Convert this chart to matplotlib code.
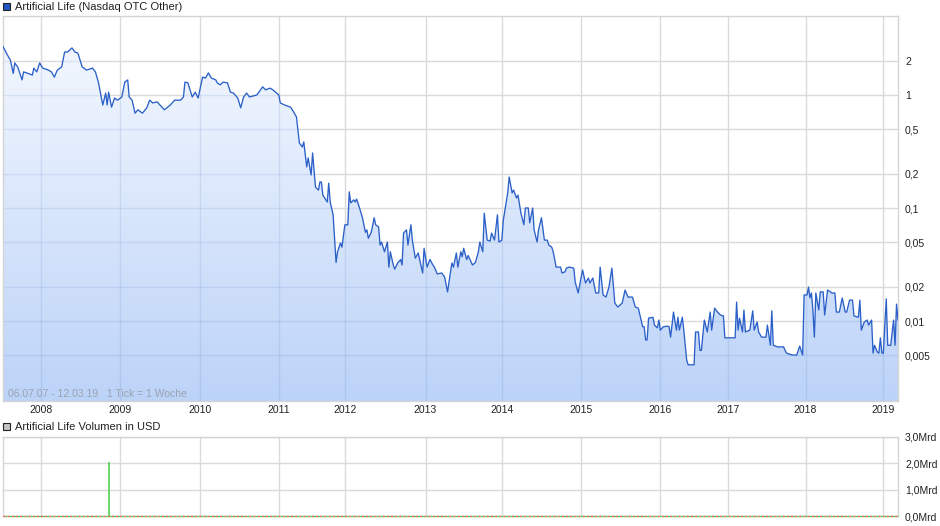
import numpy as np
import matplotlib
matplotlib.use("Agg")
import matplotlib.pyplot as plt
from matplotlib.patches import Polygon, Rectangle
from matplotlib.ticker import FixedLocator, NullLocator
from matplotlib.colors import to_rgb

plt.rcParams['font.family'] = ['Liberation Sans', 'DejaVu Sans']

# weekly closing prices (weeks counted from 06.07.07)
weeks = [0, 3, 5, 7, 8, 10, 13, 14, 16, 20, 21, 23, 25, 27, 31, 33, 35, 37, 40, 42,
         44, 47, 49, 51, 54, 57, 61, 63, 65, 68, 70, 71, 72, 74, 76, 78, 81, 83, 85, 86,
         88, 90, 92, 95, 98, 100, 102, 105, 107, 110, 114, 117, 121, 123, 124, 126, 129, 131, 133, 136,
         138, 140, 142, 145, 146, 148, 150, 153, 155, 157, 160, 162, 164, 166, 168, 173, 177, 179, 182, 184,
         188, 189, 192, 196, 198, 200, 202, 204, 205, 207, 208, 210, 211, 213, 215, 216, 217, 218, 221, 222,
         223, 225, 227, 228, 230, 231, 233, 235, 236, 237, 239, 240, 241, 243, 245, 247, 248, 249, 251, 253,
         254, 256, 257, 258, 260, 262, 263, 264, 266, 267, 269, 271, 272, 273, 275, 276, 278, 279, 281, 283,
         286, 287, 289, 291, 293, 294, 296, 299, 301, 303, 305, 306, 307, 309, 310, 312, 313, 314, 316, 317,
         320, 322, 324, 325, 327, 328, 330, 332, 333, 335, 337, 338, 340, 341, 344, 345, 347, 348, 350, 351,
         353, 355, 356, 358, 359, 361, 362, 364, 365, 367, 369, 371, 372, 374, 375, 377, 380, 381, 383, 384,
         386, 389, 390, 392, 395, 397, 399, 400, 402, 404, 406, 407, 409, 411, 413, 415, 417, 419, 422, 424,
         426, 429, 431, 433, 436, 437, 438, 439, 440, 443, 444, 446, 447, 448, 450, 453, 454, 455, 457, 459,
         460, 461, 463, 464, 466, 467, 470, 471, 472, 474, 475, 476, 478, 480, 482, 483, 485, 487, 489, 491,
         492, 499, 500, 501, 502, 504, 505, 506, 509, 511, 512, 514, 515, 517, 520, 521, 523, 524, 525, 528,
         532, 534, 538, 541, 543, 545, 546, 548, 549, 550, 551, 552, 553, 554, 556, 557, 559, 560, 562, 565,
         567, 568, 570, 572, 574, 575, 577, 579, 580, 583, 584, 585, 587, 589, 590, 592, 593, 594, 596, 597,
         598, 599, 600, 602, 603, 605, 607, 608, 609, 610]
price = [2.68, 2.26, 2.04, 1.55, 1.92, 1.77, 1.36, 1.60, 1.57, 1.50, 1.73, 1.60, 1.92, 1.73, 1.66, 1.60, 1.44, 1.66, 1.77, 2.40,
         2.40, 2.61, 2.40, 2.35, 1.77, 1.66, 1.73, 1.60, 1.30, 0.815, 1.04, 0.815, 1.06, 0.78, 0.94, 0.90, 0.96, 1.30, 1.36, 0.96,
         0.90, 0.69, 0.74, 0.69, 0.77, 0.90, 0.85, 0.87, 0.815, 0.74, 0.815, 0.90, 0.90, 0.96, 1.30, 1.28, 0.96, 1.06, 0.94, 1.44,
         1.41, 1.57, 1.41, 1.36, 1.28, 1.23, 1.30, 1.28, 1.06, 1.04, 0.94, 0.77, 0.96, 1.04, 0.96, 1.00, 1.18, 1.11, 1.15, 1.11,
         1.00, 0.85, 0.815, 0.78, 0.71, 0.64, 0.376, 0.347, 0.384, 0.231, 0.277, 0.196, 0.307, 0.153, 0.144, 0.170, 0.170, 0.130, 0.113, 0.166,
         0.113, 0.087, 0.033, 0.041, 0.049, 0.045, 0.071, 0.071, 0.139, 0.111, 0.118, 0.113, 0.120, 0.100, 0.082, 0.061, 0.064, 0.054, 0.061, 0.082,
         0.071, 0.068, 0.047, 0.050, 0.041, 0.050, 0.030, 0.041, 0.0313, 0.0288, 0.0326, 0.035, 0.0313, 0.060, 0.064, 0.047, 0.071, 0.052, 0.036, 0.040,
         0.0266, 0.044, 0.030, 0.035, 0.0313, 0.030, 0.0261, 0.0266, 0.0245, 0.0181, 0.0272, 0.0326, 0.030, 0.040, 0.030, 0.041, 0.037, 0.044, 0.035, 0.038,
         0.0313, 0.033, 0.041, 0.050, 0.041, 0.090, 0.052, 0.051, 0.060, 0.052, 0.087, 0.050, 0.052, 0.078, 0.136, 0.188, 0.136, 0.144, 0.1226, 0.130,
         0.090, 0.071, 0.100, 0.100, 0.074, 0.100, 0.064, 0.050, 0.064, 0.082, 0.052, 0.052, 0.047, 0.045, 0.041, 0.030, 0.030, 0.0266, 0.0272, 0.0294,
         0.030, 0.0294, 0.0221, 0.0177, 0.0283, 0.0217, 0.024, 0.0217, 0.024, 0.0177, 0.0177, 0.030, 0.017, 0.0163, 0.020, 0.0294, 0.0144, 0.0133, 0.0144, 0.0188,
         0.0163, 0.0163, 0.0133, 0.013, 0.0089, 0.0089, 0.0068, 0.0068, 0.0106, 0.0108, 0.0092, 0.0087, 0.0102, 0.0083, 0.0089, 0.009, 0.0089, 0.0072, 0.012, 0.0083,
         0.0108, 0.0083, 0.0108, 0.0083, 0.0045, 0.0041, 0.0041, 0.0041, 0.008, 0.008, 0.0055, 0.0055, 0.0102, 0.008, 0.012, 0.0083, 0.013, 0.012, 0.0113, 0.0111,
         0.0071, 0.0071, 0.0147, 0.0083, 0.0106, 0.008, 0.0125, 0.008, 0.0083, 0.0123, 0.0083, 0.0098, 0.008, 0.0072, 0.0072, 0.0092, 0.0061, 0.0123, 0.0061, 0.0059,
         0.0059, 0.0052, 0.005, 0.005, 0.006, 0.005, 0.017, 0.017, 0.020, 0.016, 0.0177, 0.0125, 0.0072, 0.0177, 0.0125, 0.0181, 0.0181, 0.0113, 0.0188, 0.0177,
         0.0177, 0.012, 0.012, 0.016, 0.012, 0.012, 0.0153, 0.0153, 0.0111, 0.0108, 0.0153, 0.0083, 0.0098, 0.0102, 0.0092, 0.0102, 0.0052, 0.0061, 0.0053, 0.0052,
         0.0071, 0.0052, 0.0052, 0.0157, 0.0061, 0.0061, 0.0102, 0.0061, 0.0141, 0.0102]

year_labels = ['2008', '2009', '2010', '2011', '2012', '2013', '2014', '2015', '2016', '2017', '2018', '2019']
year_weeks = [26, 80, 134, 188, 233, 288, 340, 394, 448, 494, 547, 600]

price_ticks = [2, 1, 0.5, 0.2, 0.1, 0.05, 0.02, 0.01, 0.005]
price_tick_labels = ['2', '1', '0,5', '0,2', '0,1', '0,05', '0,02', '0,01', '0,005']

vol_weeks = [72]
vol_values = [2.05e9]
vol_ticks = [0, 1e9, 2e9, 3e9]
vol_tick_labels = ['0,0Mrd', '1,0Mrd', '2,0Mrd', '3,0Mrd']

W, H = 940, 526
GRID = '#dadada'
fig = plt.figure(figsize=(W / 100, H / 100), dpi=100)

# price panel
ax = fig.add_axes([3 / W, 1 - 401 / H, 895 / W, 385 / H])
ax.set_yscale('log')
ax.set_xlim(0, 610)
ax.set_ylim(0.00196, 5.0)
ax.set_axisbelow(True)

# gradient fill under the line
top_c = np.array(to_rgb('#f7faff'))
bot_c = np.array(to_rgb('#bcd3f8'))
t = np.linspace(0, 1, 256).reshape(-1, 1, 1)
grad = top_c * (1 - t) + bot_c * t
im = ax.imshow(grad, extent=[0, 1, 0, 1], transform=ax.transAxes, aspect='auto', zorder=1)
ymin = ax.get_ylim()[0]
verts = [(weeks[0], ymin)] + list(zip(weeks, price)) + [(weeks[-1], ymin)]
poly = Polygon(verts, closed=True, facecolor='none', edgecolor='none', transform=ax.transData)
ax.add_patch(poly)
im.set_clip_path(poly)

# faint grid showing through the fill
for v in price_ticks:
    ln = ax.axhline(v, color='#3a66b0', alpha=0.12, lw=1, zorder=1.5)
    ln.set_clip_path(poly)
for v in year_weeks:
    ln = ax.axvline(v, color='#3a66b0', alpha=0.12, lw=1, zorder=1.5)
    ln.set_clip_path(poly)

ax.plot(weeks, price, color='#2b60c8', lw=0.95, zorder=3)

ax.yaxis.set_major_locator(FixedLocator(price_ticks))
ax.yaxis.set_minor_locator(NullLocator())
ax.set_yticklabels(price_tick_labels)
ax.yaxis.tick_right()
ax.set_xticks(year_weeks)
ax.set_xticklabels(year_labels)
ax.tick_params(axis='both', length=0, labelsize=7.5, colors='#222222')
ax.tick_params(axis='y', pad=5)
ax.tick_params(axis='x', pad=3)
ax.grid(True, color=GRID, lw=1)
for s in ax.spines.values():
    s.set_color('#d4d4d4')
    s.set_linewidth(1)

ax.text(5 / 895, 0.004, '06.07.07 - 12.03.19   1 Tick = 1 Woche', transform=ax.transAxes,
        fontsize=7.5, color='#9aa3b0', va='bottom', ha='left', zorder=4)

# legends
fig.patches.append(Rectangle((3 / W, 1 - 10 / H), 7 / W, 7 / H, transform=fig.transFigure,
                             facecolor='#1f56c0', edgecolor='#222222', lw=0.8))
fig.text(15 / W, 1 - 6.5 / H, 'Artificial Life (Nasdaq OTC Other)', fontsize=8,
         color='#222222', va='center', ha='left')
fig.patches.append(Rectangle((3 / W, 1 - 430 / H), 7 / W, 7 / H, transform=fig.transFigure,
                             facecolor='#c4c4c4', edgecolor='#222222', lw=0.8))
fig.text(15 / W, 1 - 426.5 / H, 'Artificial Life Volumen in USD', fontsize=8,
         color='#222222', va='center', ha='left')

# volume panel
ax2 = fig.add_axes([3 / W, 1 - 516 / H, 895 / W, 79 / H])
ax2.set_xlim(0, 610)
ax2.set_ylim(0, 3e9)
ax2.vlines(vol_weeks, 0, vol_values, color='#55d155', lw=1.2, zorder=3)
ax2.plot([0, 610], [0, 0], color='#f05050', lw=1, ls=(0, (1.5, 1.5)), zorder=3, clip_on=False)
ax2.plot([0, 610], [0, 0], color='#4fd04f', lw=1, ls=(1.5, (1.5, 1.5)), zorder=3, clip_on=False)
ax2.set_xticks(year_weeks)
ax2.set_xticklabels([])
ax2.set_yticks(vol_ticks)
ax2.set_yticklabels(vol_tick_labels)
ax2.yaxis.tick_right()
ax2.tick_params(axis='both', length=0, labelsize=7.5, colors='#222222')
ax2.tick_params(axis='y', pad=5)
ax2.grid(True, color=GRID, lw=1)
for s in ax2.spines.values():
    s.set_color('#d4d4d4')
    s.set_linewidth(1)
ax2.spines['bottom'].set_visible(False)

fig.savefig('out.png', dpi=100)
